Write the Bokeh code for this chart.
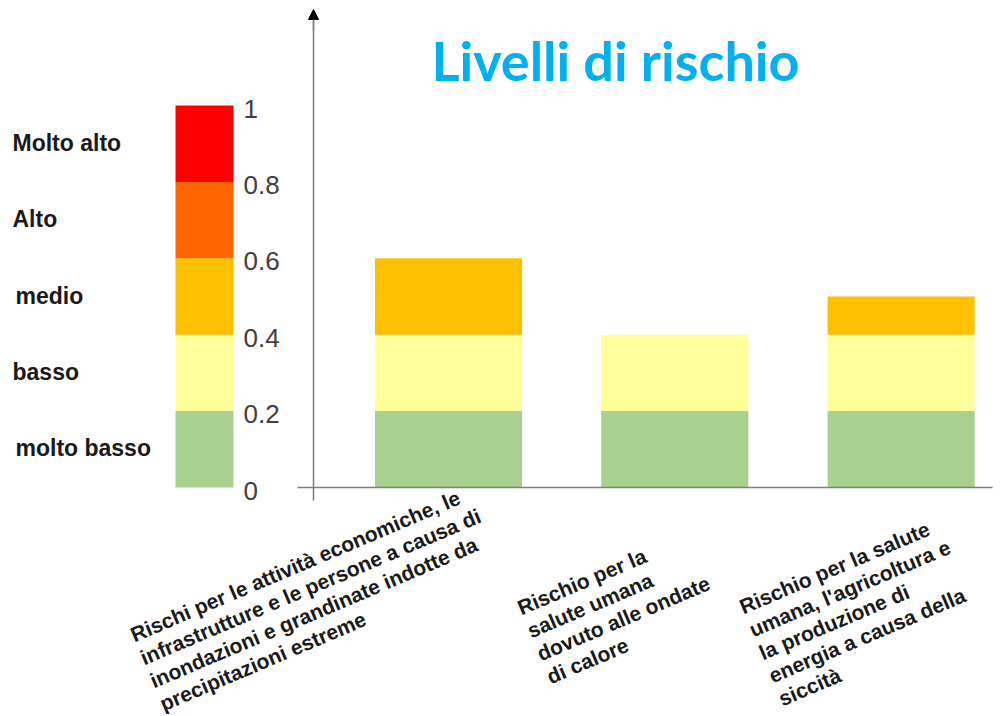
import math
from bokeh.plotting import figure
from bokeh.models import Range1d, Arrow, NormalHead, ColumnDataSource
from bokeh.core.properties import value
from bokeh.embed import file_html
from bokeh.resources import INLINE

# ---------------- data ----------------
title_text = "Livelli di rischio"
category_lines = [
    ["Rischi per le attività economiche, le",
     "infrastrutture e le persone a causa di",
     "inondazioni e grandinate indotte da",
     "precipitazioni  estreme"],
    ["Rischio per la",
     "salute umana",
     "dovuto alle ondate",
     "di calore"],
    ["Rischio per la salute",
     "umana, l'agricoltura e",
     "la produzione di",
     "energia a causa della",
     "siccità"],
]
molto_basso = [0.2, 0.2, 0.2]
basso = [0.2, 0.2, 0.2]
medio = [0.2, 0.0, 0.1]

scale_levels = ["molto basso", "basso", "medio", "Alto", "Molto alto"]
scale_bounds = [0.0, 0.2, 0.4, 0.6, 0.8, 1.0]
tick_labels = ["0", "0.2", "0.4", "0.6", "0.8", "1"]

# ---------------- style / layout ----------------
C_GREEN = "#A9D08E"
C_YELLOW = "#FFFF99"
C_AMBER = "#FFC000"
C_ORANGE = "#FF6600"
C_RED = "#FF0000"
scale_colors = [C_GREEN, C_YELLOW, C_AMBER, C_ORANGE, C_RED]

W, H = 1000, 714
OX, OY = 0, 0           # image px where the plot frame starts
X0, XU = 448.0, 226.3   # image px of category 0 centre, px per category
Y0, YU = 487.0, 382.0   # image px of value 0, px per unit value


def px_x(px):
    return (px - X0) / XU


def px_y(py):
    return (Y0 - py) / YU


p = figure(width=W, height=H, output_backend="svg", toolbar_location=None,
           x_range=Range1d(px_x(OX), px_x(OX + W)),
           y_range=Range1d(px_y(OY + H), px_y(OY)),
           min_border=0, x_axis_location=None, y_axis_location=None)
p.outline_line_color = None
p.xgrid.visible = False
p.ygrid.visible = False
p.background_fill_color = "white"
p.border_fill_color = "white"

# ---- stacked bars ----
src = ColumnDataSource(dict(x=list(range(len(category_lines))),
                            molto_basso=molto_basso, basso=basso, medio=medio))
p.vbar_stack(["molto_basso", "basso", "medio"], x="x", width=0.65, source=src,
             fill_color=[C_GREEN, C_YELLOW, C_AMBER], line_color=None)

# ---- colour scale bar ----
leg_c = px_x(204)
leg_w = 58 / XU
p.quad(left=leg_c - leg_w / 2, right=leg_c + leg_w / 2,
       bottom=scale_bounds[:-1], top=scale_bounds[1:],
       fill_color=scale_colors, line_color=None)

# tick numbers
p.text(x=px_x(243), y=[b - 3 / YU for b in scale_bounds], text=tick_labels,
       text_align="left", text_baseline="middle",
       text_font=value("Liberation Sans"), text_font_size="26px",
       text_color="#404040")

# level names
level_x = [15, 12, 15, 12, 12]
p.text(x=[px_x(v) for v in level_x],
       y=[(scale_bounds[i] + scale_bounds[i + 1]) / 2 + 1 / YU for i in range(5)],
       text=scale_levels, text_align="left", text_baseline="middle",
       text_font=value("Liberation Sans"), text_font_size="23px",
       text_font_style="bold", text_color="#1a1a1a")

# ---- axes ----
ax_x = px_x(313)
p.segment(x0=[ax_x], y0=[px_y(500)], x1=[ax_x], y1=[px_y(20)],
          line_color="#7f7f7f", line_width=1.5)
p.add_layout(Arrow(end=NormalHead(size=10, fill_color="black", line_color="black"),
                   x_start=ax_x, y_start=px_y(30), x_end=ax_x, y_end=px_y(9),
                   line_color="#7f7f7f", line_width=1.5))
p.segment(x0=[px_x(297)], y0=[0], x1=[px_x(992)], y1=[0],
          line_color="#7f7f7f", line_width=1.5)

# ---- title ----
p.text(x=[px_x(615)], y=[px_y(60)], text=[title_text],
       text_align="center", text_baseline="middle",
       text_font=value("Lato"), text_font_size="54px", text_font_style="bold",
       text_color="#00B0F0")

# ---- rotated category labels ----
ang = math.radians(23)
line_gap = 25.0
label_start = [(131 - X0, 635), (518 - X0 - XU, 608), (740 - X0 - 2 * XU, 607)]
tx, ty, tt = [], [], []
for i, lines in enumerate(category_lines):
    sx = X0 + i * XU + label_start[i][0]
    sy = label_start[i][1]
    for j, ln in enumerate(lines):
        tx.append(px_x(sx + j * line_gap * math.sin(ang)))
        ty.append(px_y(sy + j * line_gap * math.cos(ang)))
        tt.append(ln)
p.text(x=tx, y=ty, text=tt, angle=ang, text_align="left",
       text_baseline="alphabetic", text_font=value("Liberation Sans"),
       text_font_size="21px", text_font_style="bold", text_color="#1a1a1a")

open("out.html", "w").write(file_html(p, INLINE))
